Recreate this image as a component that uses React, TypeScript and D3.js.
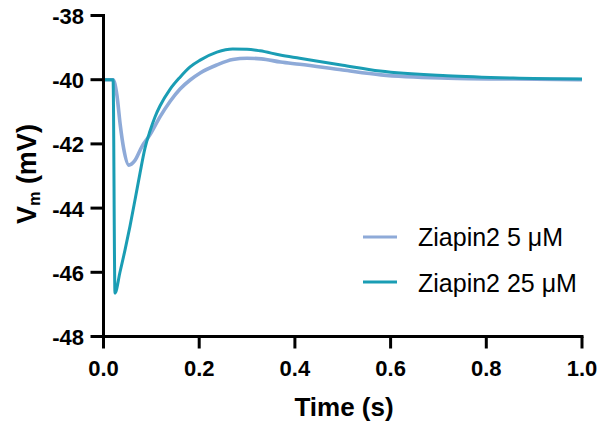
import React from "react";
import * as d3 from "d3";

const timeTicks = [0, 0.2, 0.4, 0.6, 0.8, 1.0];
const vTicks = [-48, -46, -44, -42, -40, -38];

const t5 = [0, 0.02, 0.028, 0.035, 0.042, 0.053, 0.065, 0.08, 0.097, 0.118, 0.139, 0.16, 0.181, 0.202, 0.237, 0.27, 0.3, 0.33, 0.37, 0.41, 0.5, 0.58, 0.72, 0.86, 1.0];
const v5 = [-40, -40, -40.48, -41.41, -42.13, -42.66, -42.53, -42.09, -41.72, -41.16, -40.68, -40.29, -40.01, -39.79, -39.54, -39.37, -39.33, -39.35, -39.45, -39.52, -39.7, -39.85, -39.95, -39.98, -40];

const t25 = [0, 0.02, 0.024, 0.0345, 0.0449, 0.0554, 0.0658, 0.0763, 0.0867, 0.0972, 0.1076, 0.118, 0.139, 0.16, 0.181, 0.202, 0.237, 0.27, 0.3, 0.327, 0.369, 0.41, 0.5, 0.578, 0.718, 0.856, 1.0];
const v25 = [-40, -40, -46.65, -45.99, -45.31, -44.56, -43.75, -42.91, -42.13, -41.6, -41.16, -40.82, -40.3, -39.92, -39.6, -39.39, -39.14, -39.04, -39.05, -39.1, -39.23, -39.33, -39.55, -39.73, -39.88, -39.95, -39.98];

const seriesNames = ["Ziapin2 5 \u03bcM", "Ziapin2 25 \u03bcM"];
const colors = ["#8eaad8", "#1a9db4"];

export default function App() {
  const x = d3.scaleLinear().domain([0, 1]).range([103.5, 582]);
  const y = d3.scaleLinear().domain([-48, -38]).range([336.5, 15.5]);
  const line = d3
    .line<[number, number]>()
    .x((d) => x(d[0]))
    .y((d) => y(d[1]))
    .curve(d3.curveMonotoneX);
  const d5 = line(t5.map((t, i) => [t, v5[i]] as [number, number])) || "";
  const d25 = line(t25.map((t, i) => [t, v25[i]] as [number, number])) || "";
  const font = "'Liberation Sans', Arial, sans-serif";
  return (
    <svg
      width={606}
      height={426}
      style={{ position: "fixed", left: 0, top: 0, background: "#fff" }}
      fontFamily={font}
    >
      <path d={d5} fill="none" stroke={colors[0]} strokeWidth={3.6} strokeLinejoin="round" />
      <path d={d25} fill="none" stroke={colors[1]} strokeWidth={3} strokeLinejoin="round" />
      {/* axes */}
      <line x1={x(0)} x2={x(0)} y1={y(-38) - 1.5} y2={y(-48) + 1.5} stroke="#000" strokeWidth={3} />
      <line x1={x(0) - 1.5} x2={x(1) + 1.5} y1={y(-48)} y2={y(-48)} stroke="#000" strokeWidth={3} />
      {vTicks.map((v) => (
        <g key={v}>
          <line x1={x(0) - 13} x2={x(0)} y1={y(v)} y2={y(v)} stroke="#000" strokeWidth={3} />
          <text x={84} y={y(v) + 8.5} textAnchor="end" fontSize={22} fontWeight="bold">
            {v}
          </text>
        </g>
      ))}
      {timeTicks.map((t) => (
        <g key={t}>
          <line x1={x(t)} x2={x(t)} y1={y(-48)} y2={y(-48) + 12} stroke="#000" strokeWidth={3} />
          <text x={x(t)} y={376} textAnchor="middle" fontSize={22} fontWeight="bold">
            {t.toFixed(1)}
          </text>
        </g>
      ))}
      <text x={344} y={416} textAnchor="middle" fontSize={26} fontWeight="bold">
        Time (s)
      </text>
      <text
        transform="translate(36,174) rotate(-90)"
        textAnchor="middle"
        fontSize={27}
        fontWeight="bold"
      >
        V<tspan fontSize={16} dy={4}>m</tspan>
        <tspan dy={-4}> (mV)</tspan>
      </text>
      {/* legend */}
      {seriesNames.map((n, i) => (
        <g key={n}>
          <line x1={363} x2={397} y1={237 + i * 45} y2={237 + i * 45} stroke={colors[i]} strokeWidth={3} />
          <text x={418} y={246 + i * 46} fontSize={25}>
            {n}
          </text>
        </g>
      ))}
    </svg>
  );
}
